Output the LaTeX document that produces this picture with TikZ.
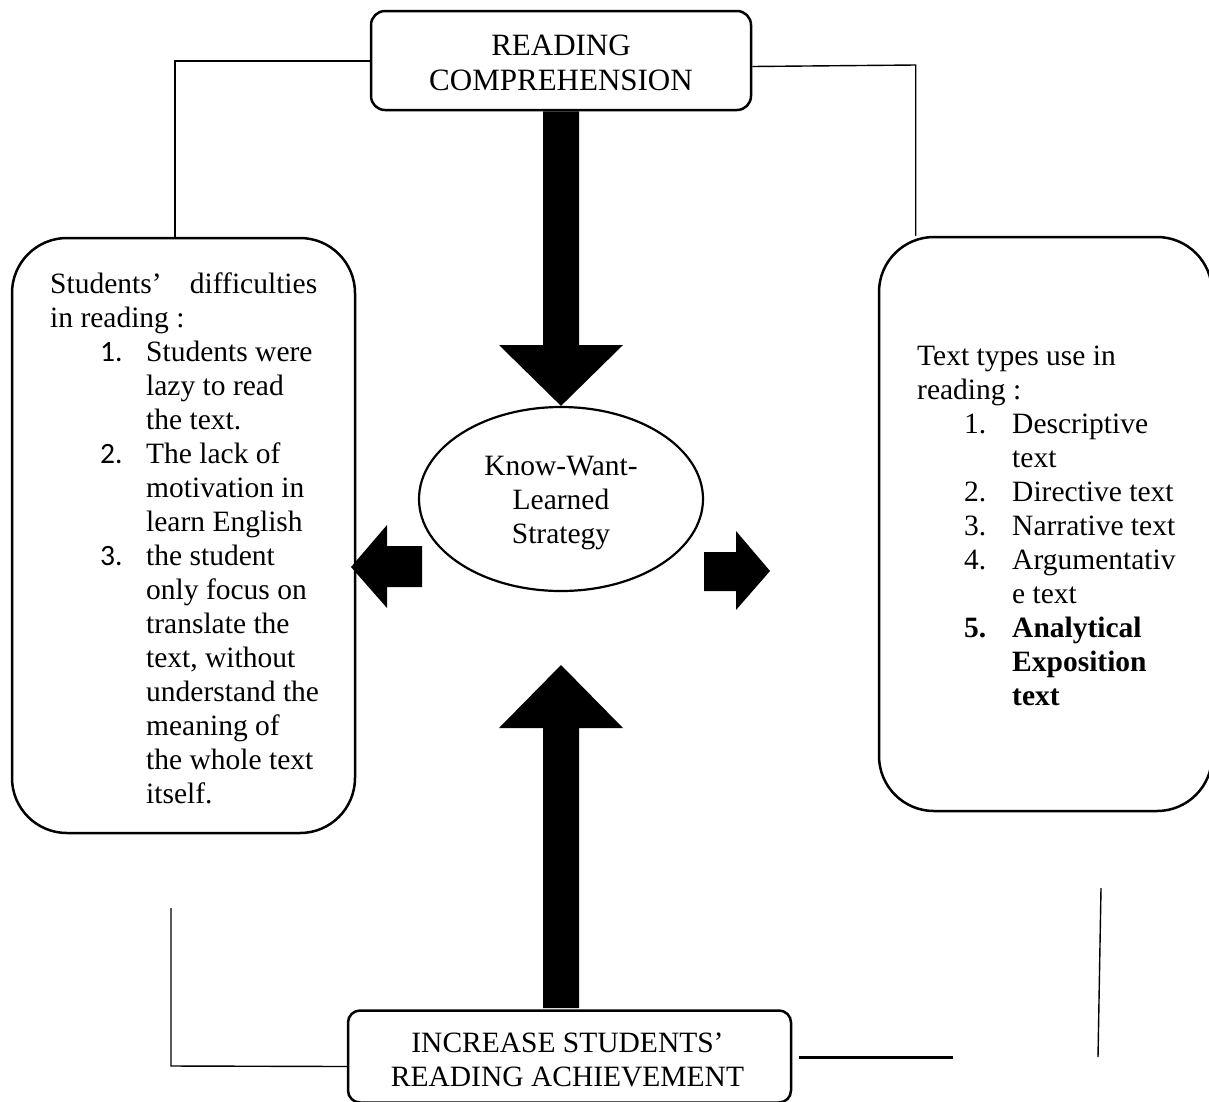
\documentclass[tikz,border=0pt]{standalone}
\usepackage{fontspec}
\setmainfont{Liberation Serif}
\newfontfamily\calibri{Carlito}
\usetikzlibrary{shapes.geometric,calc}
\tikzset{
  box/.style={draw=black, line width=2.5pt, inner sep=0pt, fill=white},
  txt/.style={inner sep=0pt, font=\fontsize{29.5}{34}\selectfont},
  conn/.style={draw=black, line width=2pt},
  thinconn/.style={draw=black, line width=1.4pt},
  thickconn/.style={draw=black, line width=3pt},
  blockarrow/.style={fill=black}
}
\begin{document}
\begin{tikzpicture}[x=1pt,y=-1pt]
\useasboundingbox (0,0) rectangle (1209,1101);

% boxes
\node[box, minimum width=380pt, minimum height=99pt, rounded corners=14pt] (top) at (561,60.5) {};
\node[box, minimum width=343pt, minimum height=595pt, rounded corners=55pt] (left) at (183.5,535.5) {};
\node[box, minimum width=333pt, minimum height=574pt, rounded corners=55pt] (right) at (1045.5,524) {};
\node[box, ellipse, line width=2.2pt, minimum width=284pt, minimum height=184pt] (ell) at (561,499) {};
\node[box, minimum width=443pt, minimum height=92pt, rounded corners=12pt] (bot) at (569.5,1056.5) {};

% texts
\node[txt, font=\fontsize{31}{35}\selectfont, align=center, anchor=north] (toptext) at (561,31)
  {\rule{0pt}{24pt}READING\\COMPREHENSION};
\node[txt, align=center, anchor=north] (elltext) at (561,451)
  {\rule{0pt}{24pt}Know-Want-\\Learned\\Strategy};
\node[txt, align=center, anchor=north] (bottext) at (567.5,1028)
  {\rule{0pt}{24pt}INCREASE STUDENTS’\\READING ACHIEVEMENT};
\node[txt, align=left, anchor=north west] (lefttext) at (50,269)
  {\rule{0pt}{24pt}\makebox[267pt][l]{Students’\hfill difficulties}\\
   in reading :\\
   \hspace*{50pt}\makebox[46pt][l]{\calibri 1.}Students were\\
   \hspace*{96pt}lazy to read\\
   \hspace*{96pt}the text.\\
   \hspace*{50pt}\makebox[46pt][l]{\calibri 2.}The lack of\\
   \hspace*{96pt}motivation in\\
   \hspace*{96pt}learn English\\
   \hspace*{50pt}\makebox[46pt][l]{\calibri 3.}the student\\
   \hspace*{96pt}only focus on\\
   \hspace*{96pt}translate the\\
   \hspace*{96pt}text, without\\
   \hspace*{96pt}understand the\\
   \hspace*{96pt}meaning of\\
   \hspace*{96pt}the whole text\\
   \hspace*{96pt}itself.};
\node[txt, align=left, anchor=north west] (righttext) at (917,341)
  {\rule{0pt}{24pt}Text types use in\\
   reading :\\
   \hspace*{47pt}\makebox[48pt][l]{1.}Descriptive\\
   \hspace*{95pt}text\\
   \hspace*{47pt}\makebox[48pt][l]{2.}Directive text\\
   \hspace*{47pt}\makebox[48pt][l]{3.}Narrative text\\
   \hspace*{47pt}\makebox[48pt][l]{4.}Argumentativ\\
   \hspace*{95pt}e text\\
   \hspace*{47pt}\makebox[48pt][l]{\bfseries 5.}\textbf{Analytical}\\
   \hspace*{95pt}\textbf{Exposition}\\
   \hspace*{95pt}\textbf{text}};

% connector lines
\draw[conn] (top.west) -| ([xshift=-8.5pt]left.north);
\draw[thinconn] ([yshift=-6pt]top.east) -- ([xshift=38pt]right.north west |- 0,65) -- ([xshift=38pt]right.north west);
\coordinate (blfree) at (171,908);
\draw[thinconn] (blfree) -- (171,1066) -- ([yshift=-10pt]bot.west);
\coordinate (bra) at (799,1057);
\coordinate (brb) at (953,1057);
\draw[thickconn] (bra) -- (brb);
\coordinate (brc) at (1101,888);
\coordinate (brd) at (1098,1057);
\draw[thinconn] (brc) -- (brd);

% block arrows
\fill[blockarrow] ([xshift=-18pt]top.south) -- ([xshift=18pt]top.south) -- (579,345) -- (623,345) -- (ell.north) -- (499,345) -- (543,345) -- cycle;
\coordinate (uptip) at (561,665);
\fill[blockarrow] (uptip) -- (623,728) -- (579,728) -- (579,1008) -- (543,1008) -- (543,728) -- (499,728) -- cycle;
\coordinate (ltip) at (351,567);
\fill[blockarrow] (ltip) -- (387,525) -- (387,546) -- (422,546) -- (422,587) -- (387,587) -- (387,608) -- cycle;
\coordinate (rtip) at (770,571);
\fill[blockarrow] (rtip) -- (736,610) -- (736,591) -- (704,591) -- (704,552) -- (736,552) -- (736,531) -- cycle;
\end{tikzpicture}
\end{document}
